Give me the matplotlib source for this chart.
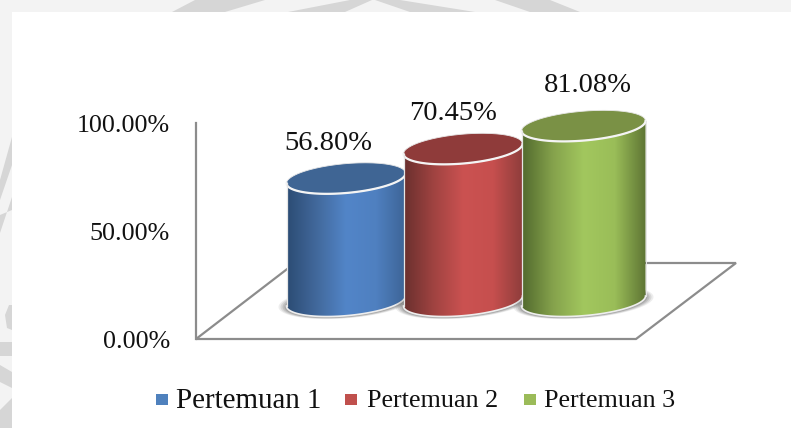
import numpy as np
import matplotlib
matplotlib.use("Agg")
import matplotlib.pyplot as plt
from matplotlib.colors import LinearSegmentedColormap
from matplotlib.patches import Polygon, Rectangle

categories = ["Pertemuan 1", "Pertemuan 2", "Pertemuan 3"]
values = [56.80, 70.45, 81.08]
y_ticks = [0, 50, 100]
y_labels = ["0.00%", "50.00%", "100.00%"]

side_colors = [
    ["#2c4c74", "#42699c", "#5285c8", "#4f80c0", "#3d6496"],
    ["#6a302e", "#a04341", "#cb5251", "#c64f4e", "#8e3d3b"],
    ["#526a2e", "#85a24c", "#a2c75e", "#9abd58", "#5e7534"],
]
top_colors = ["#3f6594", "#8f3b3a", "#7a9145"]
legend_colors = ["#4f81bd", "#c0504d", "#9bbb59"]

PX = 2.16  # piksel per persen
Y0 = 339

fig = plt.figure(figsize=(7.91, 4.28), dpi=100, facecolor="#f3f3f3")
ax = fig.add_axes([0, 0, 1, 1])
ax.set_xlim(0, 791)
ax.set_ylim((Y0 - 428) / PX, Y0 / PX)
ax.axis("off")


def py(p):
    # piksel (dari atas) -> nilai sumbu y
    return (Y0 - p) / PX


def ellipse(cx, cy, t, a=59.5, b=14.7, k=5.0):
    return cx + a * np.cos(t), py(cy - k * np.cos(t) + b * np.sin(t))


# sisa watermark di tepi atas dan kiri
smudges = [
    [(172, 12), (225, 12), (265, 0), (195, 0)],
    [(288, 12), (345, 12), (372, 0), (350, 0)],
    [(410, 12), (475, 12), (400, 0), (375, 0)],
    [(530, 12), (580, 12), (550, 0), (495, 0)],
    [(0, 180), (12, 137), (12, 165), (0, 200)],
    [(0, 233), (12, 197), (12, 210), (0, 215)],
    [(5, 315), (9, 305), (12, 305), (12, 330), (7, 328)],
    [(0, 342), (12, 342), (12, 356), (0, 356)],
    [(0, 365), (12, 372), (12, 388), (0, 382)],
    [(0, 410), (12, 398), (12, 428), (0, 428)],
]
for s in smudges:
    ax.add_patch(Polygon([(x, py(y)) for x, y in s], closed=True, fc="#d6d6d6", ec="none", zorder=0))

ax.add_patch(Rectangle((12, py(428)), 779, py(12) - py(428), fc="white", ec="none", zorder=0.5))

# dinding dan lantai
grey = "#8c8c8c"
ax.plot([196, 196], [py(123), py(339)], color=grey, lw=1.6, zorder=1)
floor = Polygon([(196, py(339)), (636, py(339)), (736, py(263)), (295, py(263))],
                closed=True, fc="white", ec=grey, lw=1.6, zorder=1)
ax.add_patch(floor)

for i, tick in enumerate(y_ticks):
    ax.text(170, py(339 - tick * PX + 3), y_labels[i], ha="right", va="center", fontsize=18.7,
            family="Liberation Serif", color="#111111", zorder=10)

centers = [346, 463, 583.5]
half_w = [59.5, 59.5, 62]
base = 301
label_x = [328, 453, 588]
label_y = [144, 114, 85]
t = np.linspace(0, 2 * np.pi, 200)
front = np.linspace(0, np.pi, 100)

for i, v in enumerate(values):
    cx, a = centers[i], half_w[i]
    ctop = base - v * PX
    zo = 3 + i

    # bayangan
    for grow, alpha in zip([8, 6, 4, 2], [0.10, 0.14, 0.18, 0.22]):
        sx, sy = ellipse(cx, base + 1, t, a + grow, 14.7 + grow * 0.2)
        ax.fill(sx, sy, color="#555555", alpha=alpha, lw=0, zorder=zo)

    # badan silinder
    bx, by = ellipse(cx, base, front, a)
    tx, ty = ellipse(cx, ctop, front[::-1], a)
    body = Polygon(np.column_stack([np.r_[bx, tx], np.r_[by, ty]]), closed=True,
                   fc="none", ec="none", zorder=zo)
    ax.add_patch(body)
    cmap = LinearSegmentedColormap.from_list("s%d" % i, side_colors[i])
    grad = np.linspace(0, 1, 256).reshape(1, -1)
    im = ax.imshow(grad, cmap=cmap, extent=[cx - a, cx + a, py(340), py(90)],
                   aspect="auto", zorder=zo, interpolation="bilinear")
    im.set_clip_path(body)

    # tutup atas dan tepi putih
    ex, ey = ellipse(cx, ctop, t, a)
    ax.fill(ex, ey, color=top_colors[i], lw=0, zorder=zo + 0.1)
    ax.plot(ex, ey, color="#e8e8e8", lw=0.6, zorder=zo + 0.15)
    fx, fy = ellipse(cx, ctop, front, a)
    ax.plot(fx, fy, color="#f4f4f4", lw=1.6, zorder=zo + 0.2)
    ax.plot(bx, by, color="#eeeeee", lw=1.2, zorder=zo + 0.2)
    ax.plot([bx[0], tx[-1]], [by[0], ty[-1]], color="#e6e6e6", lw=0.7, zorder=zo + 0.2)
    ax.plot([bx[-1], tx[0]], [by[-1], ty[0]], color="#e6e6e6", lw=0.9, zorder=zo + 0.2)

    ax.text(label_x[i], py(label_y[i]), "%.2f%%" % v, ha="center", va="center",
            fontsize=20.5, family="Liberation Serif", color="#111111", zorder=10)

# legenda
box_x = [156, 345, 524]
text_x = [176, 367, 544]
sizes = [20.9, 18.8, 18.8]
for i, name in enumerate(categories):
    ax.add_patch(Rectangle((box_x[i], py(405)), 11.5, py(394) - py(405),
                           fc=legend_colors[i], ec="none", zorder=10))
    ax.text(text_x[i], py(401), name, ha="left", va="center", fontsize=sizes[i],
            family="Liberation Serif", color="#111111", zorder=10)

fig.savefig("out.png", dpi=100, facecolor=fig.get_facecolor())
